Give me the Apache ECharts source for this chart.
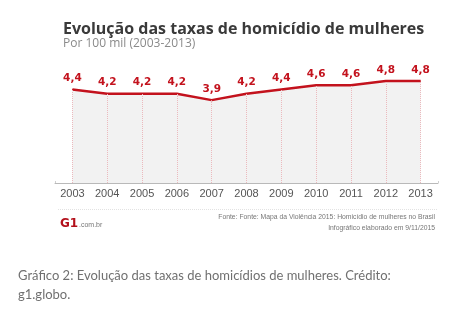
<!DOCTYPE html>
<html><head><meta charset="utf-8">
<script src="https://cdn.jsdelivr.net/npm/echarts@6/dist/echarts.min.js"></script>
<style>html,body{margin:0;padding:0;background:#fff}#c{width:468px;height:325px}</style>
</head><body><div id="c"></div>
<script>
const years = ['2003','2004','2005','2006','2007','2008','2009','2010','2011','2012','2013'];
const rates = [4.4, 4.2, 4.2, 4.2, 3.9, 4.2, 4.4, 4.6, 4.6, 4.8, 4.8];
const titleText = 'Evolução das taxas de homicídio de mulheres';
const subtitleText = 'Por 100 mil (2003-2013)';
const sourceLines = ['Fonte: Fonte: Mapa da Violência 2015: Homicídio de mulheres no Brasil', 'Infográfico elaborado em 9/11/2015'];
const captionLines = ['Gráfico 2: Evolução das taxas de homicídios de mulheres. Crédito:', 'g1.globo.'];

const chart = echarts.init(document.getElementById('c'), null, {renderer: 'canvas'});
const red = '#c3121d';
chart.setOption({
  animation: false,
  backgroundColor: '#fff',
  title: {
    text: titleText, subtext: subtitleText, left: 58, top: 16, itemGap: 1,
    textStyle: {fontFamily: 'Open Sans', fontWeight: 'bold', fontSize: 16, color: '#3a3a3a'},
    subtextStyle: {fontFamily: 'Open Sans', fontSize: 12, color: '#8a8a8a'}
  },
  grid: {left: 55, right: 30, top: 55.5, bottom: 142},
  xAxis: {
    type: 'category', data: years, boundaryGap: true,
    axisLine: {lineStyle: {color: '#b9b9b9', width: 1}},
    axisTick: {show: true, inside: true, length: 2, lineStyle: {color: '#cfcfcf'}},
    axisLabel: {color: '#555', fontFamily: 'Liberation Sans', fontSize: 11, margin: 5}
  },
  yAxis: {type: 'value', min: 0, max: 6, show: false, splitLine: {show: false}},
  series: [{
    type: 'line', data: rates, symbol: 'circle', symbolSize: 1, showSymbol: true,
    itemStyle: {color: red},
    lineStyle: {color: red, width: 2.5},
    areaStyle: {color: '#f2f2f2', opacity: 1},
    label: {
      show: true, position: 'top', distance: 5, color: red,
      fontFamily: 'DejaVu Sans', fontWeight: 'bold', fontSize: 10.5,
      formatter: p => String(p.value).replace('.', ',')
    },
    labelLayout: {hideOverlap: false},
    markLine: {
      silent: true, symbol: 'none', label: {show: false},
      lineStyle: {color: '#ebb9bd', type: [1, 1], width: 1},
      data: rates.map((v, i) => [{coord: [i, 0]}, {coord: [i, v]}])
    },
    z: 3
  }],
  graphic: [
    {type: 'line', shape: {x1: 58, y1: 209.5, x2: 437, y2: 209.5}, style: {stroke: '#e2e2e2', lineDash: [1, 1], lineWidth: 1}},
    {type: 'text', left: 60, top: 218, style: {text: 'G1', fill: '#b3101b', font: 'bold 12px "DejaVu Sans"'}},
    {type: 'text', left: 79, top: 222, style: {text: '.com.br', fill: '#777', font: '7px "Liberation Sans"'}},
    {type: 'text', right: 33, top: 214, style: {text: sourceLines[0], fill: '#777', font: '6.8px "Liberation Sans"', align: 'right'}},
    {type: 'text', right: 33, top: 225, style: {text: sourceLines[1], fill: '#777', font: '6.8px "Liberation Sans"', align: 'right'}},
    {type: 'text', left: 18, top: 269, style: {text: captionLines[0], fill: '#707070', font: '13px Lato'}},
    {type: 'text', left: 18, top: 288, style: {text: captionLines[1], fill: '#707070', font: '13px Lato'}}
  ]
});
</script></body></html>
